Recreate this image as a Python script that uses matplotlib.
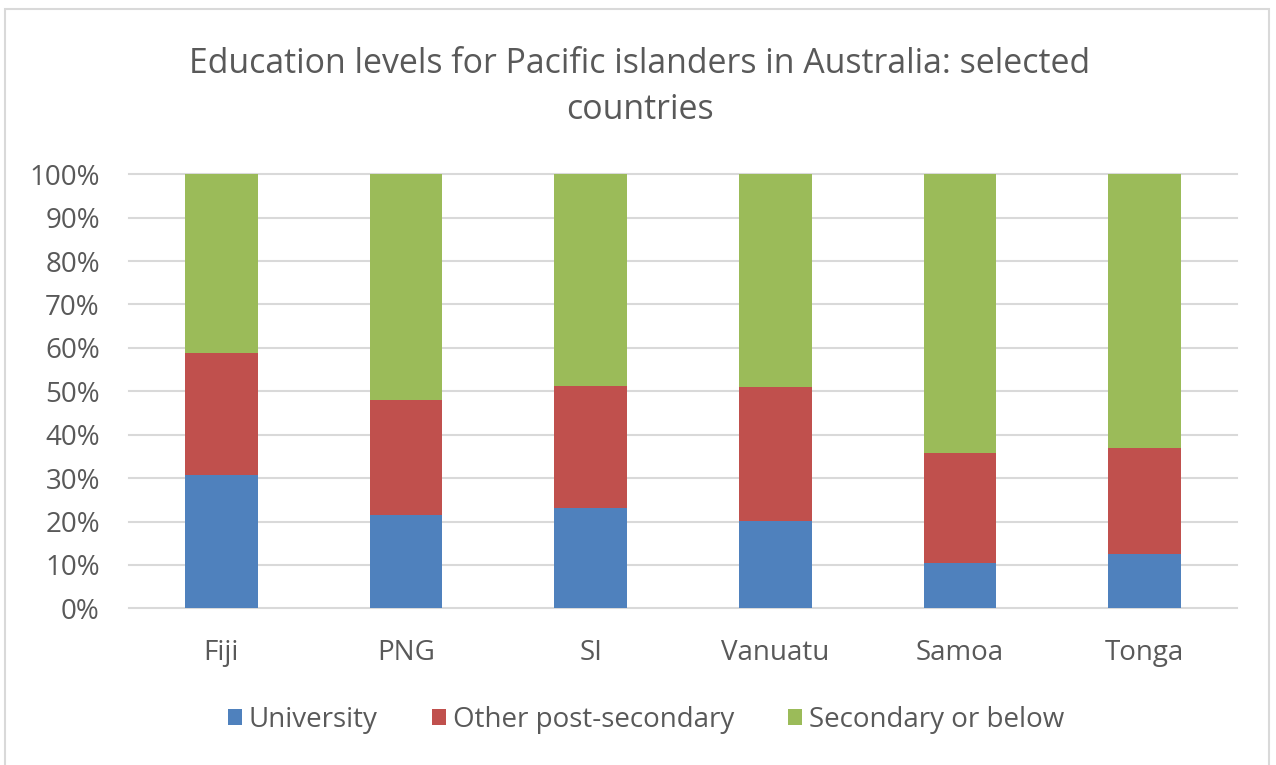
import matplotlib
matplotlib.use("Agg")
import matplotlib.pyplot as plt
from matplotlib.patches import Rectangle
import numpy as np

countries = ["Fiji", "PNG", "SI", "Vanuatu", "Samoa", "Tonga"]
university = [30.8, 21.6, 23.0, 20.2, 10.4, 12.5]
other_post = [28.1, 26.4, 28.2, 30.9, 25.4, 24.4]
secondary = [41.1, 52.0, 48.8, 48.9, 64.2, 63.1]
series_names = ["University", "Other post-secondary", "Secondary or below"]
colors = ["#4F81BD", "#C0504D", "#9BBB59"]
yticks = [0, 10, 20, 30, 40, 50, 60, 70, 80, 90, 100]

plt.rcParams['font.family'] = ['Open Sans', 'DejaVu Sans']
text_color = "#595959"

fig = plt.figure(figsize=(12.76, 7.65), dpi=100)
fig.patch.set_facecolor("white")
# chart border
fig.add_artist(Rectangle((5/1276, -0.01), (1269-5)/1276, (765-9)/765 + 0.01,
                         transform=fig.transFigure, fill=False,
                         edgecolor="#D9D9D9", linewidth=1.5))

ax = fig.add_axes([129/1276, 1 - 608.3/765, 1108/1276, 434/765])
x = np.arange(len(countries))
u = np.array(university)
o = np.array(other_post)
s = np.array(secondary)
w = 0.395
ax.bar(x, u, w, color=colors[0], label=series_names[0], zorder=3)
ax.bar(x, o, w, bottom=u, color=colors[1], label=series_names[1], zorder=3)
ax.bar(x, s, w, bottom=u + o, color=colors[2], label=series_names[2], zorder=3)

ax.set_xlim(-0.5, len(countries) - 0.5)
ax.set_ylim(0, 100)
ax.set_yticks(yticks)
ax.set_yticklabels([f"{v}%" for v in yticks], fontsize=20, color=text_color)
ax.set_xticks(x)
ax.set_xticklabels(countries, fontsize=20, color=text_color)
ax.tick_params(axis='both', length=0)
ax.tick_params(axis='y', pad=21)
ax.tick_params(axis='x', pad=22)
ax.grid(axis='y', color="#D9D9D9", linewidth=1.5, zorder=0)
for line in ax.get_ygridlines():
    line.set_clip_on(False)
for sp in ax.spines.values():
    sp.set_visible(False)

fig.text(640/1276, 1 - 87/765, "Education levels for Pacific islanders in Australia: selected\ncountries",
         ha="center", va="center", fontsize=24.4, color=text_color, linespacing=1.43)

leg = fig.legend(loc="center", bbox_to_anchor=(646/1276, 1 - 720/765), ncol=3,
                 frameon=False, fontsize=20, handlelength=0.5, handleheight=0.5,
                 handletextpad=0.25, columnspacing=1.95)
for t in leg.get_texts():
    t.set_color(text_color)

fig.savefig("out.png", dpi=100, facecolor="white")
